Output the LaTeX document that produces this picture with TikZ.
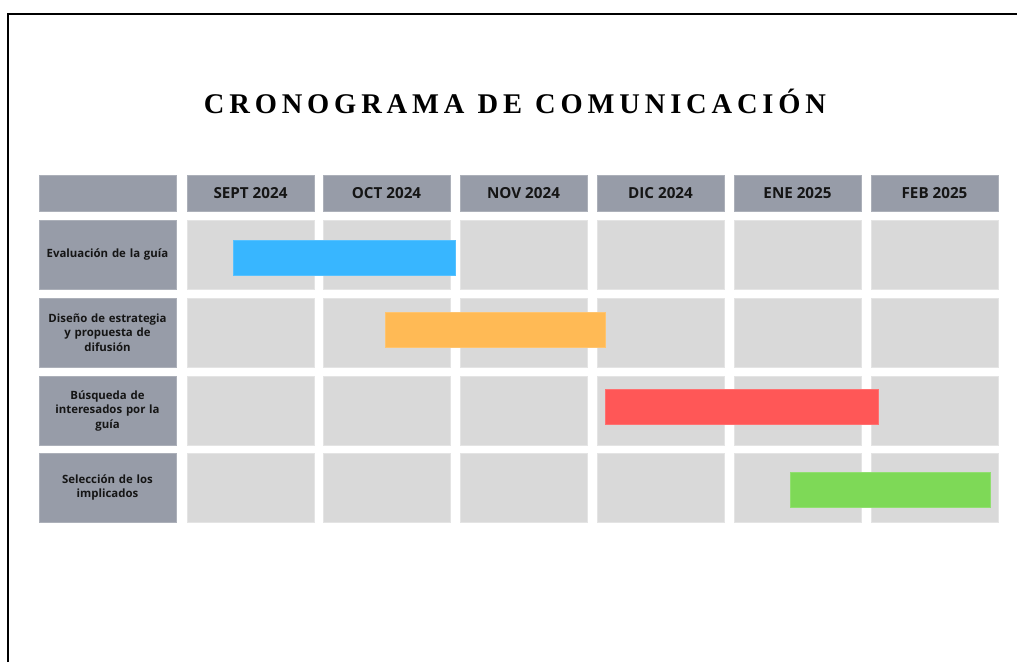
\documentclass[tikz,border=0pt]{standalone}
\usepackage{fontspec}
\setmainfont{Liberation Serif}
\newfontfamily\titlefont{Liberation Serif}[LetterSpace=17,WordSpace=1.1]
\newfontfamily\lblfont{Open Sans}
\definecolor{hdr}{HTML}{979CA8}
\definecolor{cell}{HTML}{D9D9D9}
\definecolor{cellline}{HTML}{E4E4E4}
\definecolor{barblue}{HTML}{38B6FF}
\definecolor{barorange}{HTML}{FFBA55}
\definecolor{barred}{HTML}{FF5757}
\definecolor{bargreen}{HTML}{7ED957}
\definecolor{txt}{HTML}{151515}
\tikzset{
  hdrbox/.style={fill=hdr, draw=hdr!80!white, line width=0.5pt, anchor=north west, minimum width=126.5pt, minimum height=35.5pt, inner sep=0pt, font=\lblfont\bfseries\fontsize{15.2}{18}\selectfont, text=txt},
  rowlbl/.style={fill=hdr, draw=hdr!80!white, line width=0.5pt, anchor=north west, minimum width=136.5pt, minimum height=68.5pt, inner sep=0pt, align=center, text width=134pt, font=\lblfont\bfseries\fontsize{11.4}{14.5}\selectfont, text=txt},
  cellbox/.style={fill=cell, draw=cellline, line width=0.5pt, anchor=north west, minimum width=126.5pt, minimum height=68.5pt, inner sep=0pt},
  bar/.style={anchor=north west, minimum height=35pt, inner sep=0pt, line width=0.5pt},
}
\begin{document}
\begin{tikzpicture}[x=1pt,y=-1pt]
\useasboundingbox (0,0) rectangle (1017,662);
\fill[white] (0,0) rectangle (1017,662);
\draw[line width=2pt] (8,662) -- (8,14) -- (1017,14);
\node[font=\titlefont\bfseries\fontsize{28.5}{30}\selectfont, text=black] (title) at (515,101) {CRONOGRAMA DE COMUNICACIÓN};
% header row
\node[hdrbox, minimum width=136.5pt] (h0) at (39,175) {};
\foreach \m/\x [count=\i] in {SEPT 2024/187, OCT 2024/323, NOV 2024/460, DIC 2024/597, ENE 2025/734, FEB 2025/871}{
  \node[hdrbox] (h\i) at (\x,175) {\m};
}
% rows
\foreach \t/\y [count=\r] in {{Evaluación de la guía}/220, {Diseño de estrategia\\ y propuesta de\\ difusión}/298, {Búsqueda de\\ interesados por la\\ guía}/376, {Selección de los\\ implicados}/453}{
  \node[rowlbl] (l\r) at (39,\y) {\t};
  \foreach \x [count=\c] in {187,323,460,597,734,871}{
    \node[cellbox] (c\r\c) at (\x,\y) {};
  }
}
% bars
\node[bar, fill=barblue, draw=barblue!85!white, minimum width=222pt] (b1) at (233,240) {};
\node[bar, fill=barorange, draw=barorange!85!white, minimum width=220pt] (b2) at (385,312) {};
\node[bar, fill=barred, draw=barred!85!white, minimum width=273pt] (b3) at (605,389) {};
\node[bar, fill=bargreen, draw=bargreen!85!white, minimum width=200pt] (b4) at (790,472) {};
\end{tikzpicture}
\end{document}
